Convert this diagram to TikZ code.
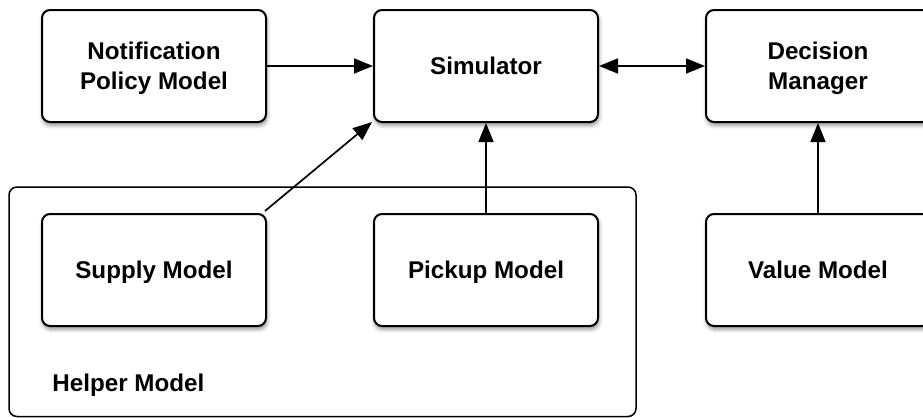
\documentclass[tikz,border=0pt]{standalone}
\usepackage{fontspec}
\setmainfont{Liberation Sans}
\usetikzlibrary{arrows.meta,shadows.blur}

\tikzset{
  labelfont/.style={font=\fontsize{12.1}{15}\selectfont\bfseries,
    text height=8.7pt, text depth=0pt},
  model/.style={draw=black, line width=1pt, rounded corners=4pt, fill=white,
    minimum width=112pt, minimum height=56pt, align=center, inner sep=0pt,
    labelfont,
    blur shadow={shadow xshift=0.4pt, shadow yshift=-1.6pt,
      shadow blur radius=2pt, shadow opacity=45}},
  twoline/.style={text height=23.7pt},
  group/.style={draw=black, line width=0.75pt, rounded corners=4pt},
  link/.style={line width=0.85pt, -{Triangle[length=9.5pt,width=7.5pt]}},
  duplex/.style={line width=0.85pt, {Triangle[length=9.5pt,width=7.5pt]}-{Triangle[length=9.5pt,width=7.5pt]}}
}

\begin{document}
\begin{tikzpicture}[x=0.5pt, y=-0.5pt]
  \useasboundingbox (0,0) rectangle (923,418);
  \clip (0,0) rectangle (923,418);

  % helper group frame
  \draw[group] (9,187) rectangle (636,416.5);
  \node[anchor=west, inner sep=0pt, labelfont] (helper) at (52,382.5) {Helper Model};

  % model boxes
  \node[model, twoline] (notif) at (154,66) {Notification\\Policy Model};
  \node[model] (sim)   at (486,66) {Simulator};
  \node[model, twoline] (dec)   at (818,66) {Decision\\Manager};
  \node[model] (supply) at (154,270) {Supply Model};
  \node[model] (pickup) at (486,270) {Pickup Model};
  \node[model] (value)  at (818,270) {Value Model};

  % connectors
  \draw[link] (notif.east) -- (sim.west);
  \draw[duplex] (sim.east) -- (dec.west);
  \draw[link] ([shift={(-2,-2)}]supply.north east) -- ([shift={(-1,-1)}]sim.south west);
  \draw[link] (pickup.north) -- (sim.south);
  \draw[link] (value.north) -- (dec.south);
\end{tikzpicture}
\end{document}
